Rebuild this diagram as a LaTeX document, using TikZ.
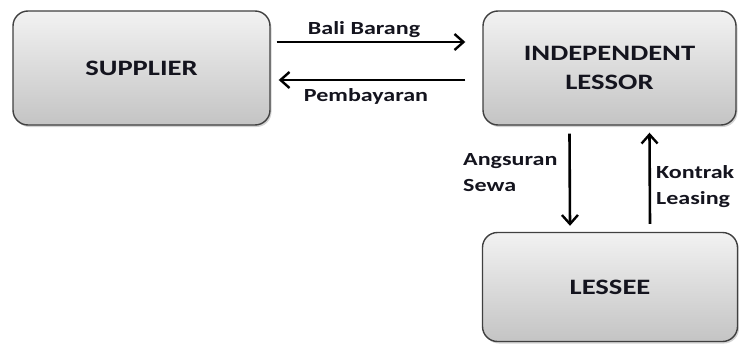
\documentclass[tikz,border=0pt]{standalone}
\usepackage{fontspec}
\setmainfont{Carlito}[FakeStretch=1.3]
\usepackage{tikz}
\usetikzlibrary{positioning,calc,shadows,arrows.meta}
\definecolor{boxline}{RGB}{64,64,64}
\definecolor{boxtop}{RGB}{242,242,242}
\definecolor{boxbot}{RGB}{196,196,196}
\definecolor{ink}{RGB}{20,20,30}

\begin{document}
\begin{tikzpicture}[x=1pt,y=-1pt,
  party/.style={draw=boxline, line width=1.4pt, rounded corners=15pt,
    top color=boxtop, bottom color=boxbot, align=center,
    font=\fontsize{22}{29}\selectfont\bfseries, text=ink,
    drop shadow={shadow xshift=1.5pt, shadow yshift=-2pt, opacity=0.35}},
  flow/.style={line width=2.6pt, -{Straight Barb[length=9pt,width=16pt,line width=2.4pt]}},
  tag/.style={font=\fontsize{18.5}{26}\selectfont\bfseries, text=ink, align=left, inner sep=2pt}]
\useasboundingbox (0,0) rectangle (739,343);

\node[party, minimum width=257pt, minimum height=114pt] (supplier) at (141.5,68) {SUPPLIER};
\node[party, minimum width=253pt, minimum height=114pt] (lessor) at (609.5,68) {INDEPENDENT\\LESSOR};
\node[party, minimum width=255pt, minimum height=109pt] (lessee) at (610,287) {LESSEE};

\draw[flow] ([xshift=6pt,yshift=26pt]supplier.east) -- ([xshift=-17pt,yshift=26pt]lessor.west)
  node[midway, above=1pt, xshift=-7pt, tag] (barang) {Bali Barang};
\draw[flow] ([xshift=-17pt,yshift=-12pt]lessor.west) -- ([xshift=8pt,yshift=-12pt]supplier.east)
  node[midway, below=5pt, xshift=-6pt, tag] (bayar) {Pembayaran};

\draw[flow] ([xshift=-40pt,yshift=-8pt]lessor.south) -- ([xshift=-40pt,yshift=6pt]lessee.north)
  node[pos=0.42, left=9pt, tag] (angsuran) {Angsuran\\Sewa};
\draw[flow] ([xshift=40pt,yshift=8pt]lessee.north) -- ([xshift=40pt,yshift=-7pt]lessor.south)
  node[pos=0.41, right=3pt, tag] (kontrak) {Kontrak\\Leasing};
\end{tikzpicture}
\end{document}
